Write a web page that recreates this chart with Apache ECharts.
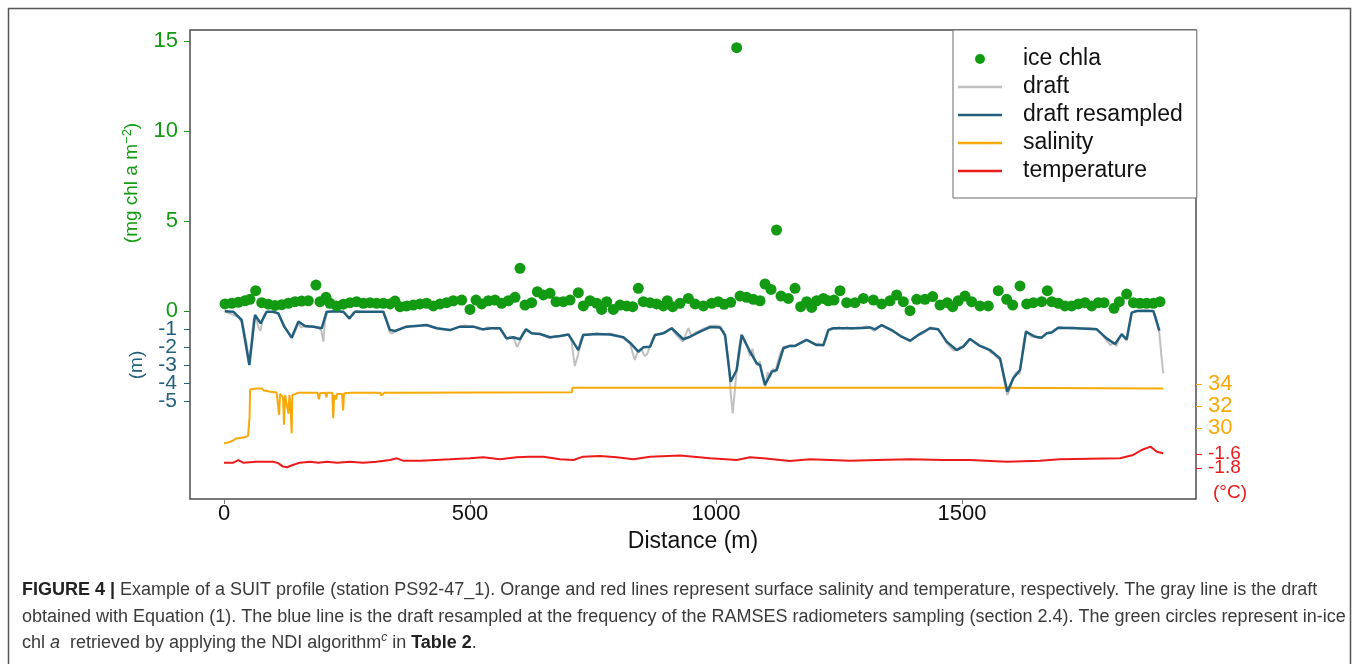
<!DOCTYPE html>
<html>
<head>
<meta charset="utf-8">
<script src="https://cdn.jsdelivr.net/npm/echarts@6/dist/echarts.min.js"></script>
<style>
  html, body { margin: 0; padding: 0; background: #fff; }
  #chart { width: 1358px; height: 664px; }
</style>
</head>
<body>
<div id="chart"></div>
<script>
// ---- SUIT profile PS92-47_1: distance along track (m) and measured values ----

// in-ice chl a (mg chl a m^-2) at the RAMSES sampling positions
const chlaDist = [2, 15.6, 29.1, 42.7, 52.8, 64.4, 76.6, 90.1, 103.7, 117.2, 130.7, 144.3, 157.8, 171.3, 186.9, 195.1, 207.3, 215.4, 229, 242.6, 256.1, 269.6, 283.2, 296.7, 310.3, 323.8, 337.4, 347.5, 357.7, 371.3, 384.8, 398.4, 411.9, 425.5, 439, 452.6,
  466.1, 483.1, 500, 512.2, 523.7, 537.3, 550.8, 564.4, 577.9, 591.5, 601.6, 611.8, 625.3, 636.9, 649.1, 662.6, 674.8, 689.7, 703.3, 720.2, 730.3, 743.9, 757.5, 767.6, 777.8, 791.3, 804.9, 818.4, 830.6, 842.1, 852.2, 865.9, 879.4, 893, 901.1, 911.9, 926.8, 943.8, 957.3, 974.3,
  991.2, 1004.7, 1016.3, 1029.8, 1042, 1048.8, 1062.3, 1075.9, 1089.4, 1099.6, 1111.8, 1123, 1132.1, 1147, 1160.6, 1172.1, 1184.3, 1194.4, 1204.6, 1218.2, 1228.3, 1239.8, 1252, 1265.6, 1282.5, 1299.5, 1319.8, 1336.7, 1353.7, 1367.2, 1380.8, 1394.3, 1407.9, 1424.8, 1440.4, 1455.3, 1470.2, 1481, 1492.5, 1506.1,
  1519.6, 1536.6, 1553.5, 1573.8, 1590.8, 1603, 1617.9, 1631.5, 1645, 1662, 1673.5, 1682.3, 1695.8, 1709.3, 1722.9, 1736.4, 1750, 1763.6, 1777.1, 1788.6, 1808.9, 1819.8, 1834.7, 1848.3, 1861.8, 1875.3, 1888.9, 1902.4];
const chlaValue = [0.39, 0.43, 0.48, 0.57, 0.65, 1.13, 0.46, 0.38, 0.31, 0.35, 0.43, 0.52, 0.55, 0.57, 1.44, 0.52, 0.76, 0.43, 0.28, 0.38, 0.46, 0.52, 0.43, 0.46, 0.43, 0.43, 0.39, 0.55, 0.24, 0.28, 0.33, 0.39, 0.43, 0.28, 0.39, 0.46,
  0.57, 0.61, 0.09, 0.61, 0.39, 0.57, 0.61, 0.43, 0.57, 0.76, 2.37, 0.33, 0.46, 1.07, 0.89, 0.98, 0.52, 0.52, 0.61, 1.02, 0.28, 0.57, 0.43, 0.09, 0.52, 0.09, 0.33, 0.28, 0.24, 1.26, 0.52, 0.46, 0.39, 0.28, 0.57, 0.24, 0.43, 0.70, 0.39, 0.28,
  0.43, 0.52, 0.37, 0.48, 14.63, 0.83, 0.76, 0.65, 0.57, 1.50, 1.20, 4.50, 0.83, 0.70, 1.26, 0.24, 0.52, 0.20, 0.57, 0.70, 0.57, 0.61, 1.13, 0.46, 0.46, 0.70, 0.61, 0.39, 0.57, 0.89, 0.52, 0.02, 0.65, 0.65, 0.80, 0.33, 0.46, 0.24, 0.57, 0.83,
  0.52, 0.28, 0.28, 1.13, 0.65, 0.33, 1.39, 0.39, 0.46, 0.52, 1.13, 0.52, 0.43, 0.28, 0.28, 0.39, 0.46, 0.28, 0.46, 0.46, 0.15, 0.52, 0.94, 0.46, 0.43, 0.43, 0.43, 0.52];

// ice draft from Equation (1) (m, negative downwards)
const draftDist = [0, 8, 18, 30, 38, 46, 51, 55, 60, 64, 70, 74, 80, 86, 100, 110, 118, 124, 132, 138, 145, 151, 156, 164, 172, 182, 192, 198, 202, 205, 210, 229, 243, 250, 255, 262, 268, 283, 324, 330, 337, 342, 348, 360, 372, 390, 412, 425, 440, 459,
  470, 480, 490, 500, 507, 517, 527, 535, 544, 552, 561, 568, 575, 582, 590, 596, 601, 607, 614, 620, 625, 635, 642, 652, 662, 672, 683, 693, 700, 706, 713, 720, 725, 730, 745, 757, 770, 784, 798, 812, 825, 835, 842, 848, 855, 860, 866, 872, 876, 885, 893, 902, 910, 918, 925, 933, 940, 944, 950, 958, 967, 977, 988,
  998, 1008, 1015, 1020, 1026, 1030, 1034, 1038, 1042, 1047, 1052, 1058, 1064, 1069, 1074, 1078, 1083, 1089, 1094, 1100, 1105, 1110, 1116, 1120, 1124, 1130, 1137, 1145, 1152, 1161, 1170, 1178, 1184, 1192, 1200, 1208, 1218, 1224, 1228, 1235, 1242, 1250, 1258, 1266, 1275, 1286, 1295, 1304, 1313, 1320, 1326, 1337, 1347, 1357, 1367, 1377, 1386, 1394, 1403, 1411, 1420, 1428, 1435, 1443, 1452, 1460, 1468, 1476, 1483, 1489, 1496, 1503, 1510, 1516,
  1524, 1530, 1537, 1545, 1552, 1558, 1565, 1572, 1578, 1585, 1592, 1598, 1604, 1610, 1617, 1622, 1626, 1630, 1636, 1642, 1648, 1655, 1662, 1668, 1675, 1683, 1690, 1696, 1710, 1725, 1740, 1755, 1774, 1782, 1790, 1796, 1802, 1808, 1814, 1820, 1825, 1830, 1835, 1840, 1845, 1855, 1870, 1889, 1895, 1901, 1905, 1909];
const draftValue = [0.0, -0.1, -0.2, -0.35, -0.7, -1.8, -2.9, -2.0, -0.5, -0.3, -0.9, -1.1, -0.3, -0.05, -0.05, -0.15, -0.6, -0.95, -1.25, -1.5, -1.1, -0.7, -0.9, -0.85, -0.9, -0.85, -0.95, -1.1, -1.7, -0.6, -0.05, 0.0, -0.05, -0.3, -0.45, -0.1, 0.0, -0.05, -0.05, -0.5, -1.2, -1.25, -1.1, -0.95, -0.85, -0.85, -0.8, -0.9, -1.0, -1.05,
  -0.95, -0.85, -0.8, -0.85, -0.85, -1.0, -1.05, -0.9, -0.95, -1.0, -0.95, -1.3, -1.6, -1.4, -1.6, -2.0, -1.7, -1.2, -1.0, -1.1, -1.25, -1.3, -1.25, -1.4, -1.5, -1.4, -1.4, -1.35, -1.3, -1.6, -3.06, -2.4, -1.6, -1.3, -1.3, -1.25, -1.3, -1.25, -1.35, -1.5, -1.8, -2.72, -2.2, -2.1, -2.5, -2.4, -1.95, -1.5, -1.3, -1.3, -1.2, -1.1, -0.95, -1.3, -1.5, -1.7, -1.2, -0.95, -1.4, -1.2, -1.1, -0.95, -0.85,
  -0.8, -0.85, -1.1, -1.6, -3.0, -4.6, -5.69, -4.5, -3.3, -2.0, -1.3, -1.6, -2.0, -2.5, -2.1, -2.6, -3.0, -2.8, -3.6, -4.2, -3.4, -3.7, -3.2, -3.4, -3.0, -2.4, -2.0, -1.95, -1.9, -1.95, -1.8, -1.65, -1.6, -1.7, -1.85, -1.8, -1.95, -1.5, -1.05, -0.95, -1.0, -0.9, -0.98, -0.9, -1.0, -0.92, -0.95, -0.85, -0.9, -1.1, -1.0, -0.8, -0.95, -1.1, -1.25, -1.45, -1.55, -1.7, -1.5, -1.35, -1.25, -1.1, -0.9, -0.95, -1.05, -1.35, -1.75, -2.0, -2.2, -2.15, -2.0, -1.95, -1.75, -1.55,
  -1.7, -1.85, -1.95, -2.0, -2.1, -2.3, -2.4, -2.6, -2.7, -3.8, -4.67, -4.3, -3.7, -3.4, -3.5, -2.5, -1.6, -1.1, -1.3, -1.45, -1.35, -1.5, -1.45, -1.3, -1.2, -1.15, -1.0, -0.9, -0.95, -0.92, -0.98, -0.95, -1.0, -1.2, -1.5, -1.7, -1.9, -1.75, -1.95, -1.5, -1.25, -1.5, -1.65, -0.9, -0.1, 0.0, 0.05, 0.0, -0.4, -1.2, -2.4, -3.46];

// draft resampled at the RAMSES sampling frequency (m)
const draftResDist = [2, 18.9, 35.8, 51.5, 63, 74.5, 86.7, 100.3, 110.4, 122.6, 137.5, 151.1, 164.6, 181.6, 198.5, 208.7, 229, 242.6, 254.8, 266.3, 283.2, 323.8, 337.4, 347.5, 371.3, 411.9, 432.2, 459.3,
  479.7, 506.8, 527, 544, 560.9, 574.5, 588, 601.6, 613.8, 625.3, 642.3, 662.6, 683, 700, 720.2, 730.3, 757.5, 784.6, 811.7, 825.2, 842.1, 852.2, 865.9, 876, 893, 909.9, 933.6, 947.2, 967.5, 987.8,
  1008.1, 1018.3, 1029.8, 1042, 1052.2, 1069.1, 1082.7, 1089.4, 1099.6, 1113.2, 1123.4, 1136.9, 1150.5, 1160.6, 1184.3, 1204.6, 1218.2, 1228.3, 1238.5, 1258.8, 1285.9, 1313, 1323.2, 1336.7, 1357, 1377.3, 1394.3, 1411.2, 1434.9, 1451.8, 1468.7, 1489, 1502.6, 1516.2,
  1536.6, 1556.9, 1577.2, 1592.1, 1604.3, 1617.9, 1630.1, 1648.4, 1661.9, 1672.1, 1682.3, 1695.8, 1733.1, 1773.7, 1794, 1811, 1824.5, 1834.7, 1844.8, 1855, 1888.9, 1901.1];
const draftResValue = [-0.02, -0.04, -0.5, -3.0, -0.22, -0.69, -0.04, -0.04, -0.13, -0.87, -1.48, -0.59, -0.83, -0.87, -0.96, -0.04, -0.01, -0.04, -0.41, -0.04, -0.04, -0.04, -1.06, -1.11, -0.87, -0.78, -0.96, -1.06,
  -0.87, -0.87, -1.02, -0.96, -0.96, -1.52, -1.46, -1.57, -1.02, -1.24, -1.28, -1.46, -1.39, -1.3, -2.17, -1.33, -1.28, -1.3, -1.46, -1.76, -2.26, -2.02, -1.98, -1.33, -1.24, -0.96, -1.57, -1.43, -1.15, -0.89,
  -0.91, -1.33, -3.93, -3.28, -1.33, -2.26, -2.91, -3.0, -4.11, -3.37, -3.28, -2.07, -1.94, -1.94, -1.61, -1.89, -1.89, -1.06, -0.96, -0.96, -0.96, -0.91, -1.02, -0.78, -1.06, -1.43, -1.65, -1.33, -0.96, -1.02, -1.7, -2.17, -1.98, -1.55,
  -1.94, -2.17, -2.63, -4.48, -3.74, -3.28, -1.15, -1.43, -1.48, -1.24, -1.2, -0.93, -0.96, -1.02, -1.52, -1.83, -1.3, -1.57, -0.09, 0.0, 0.0, -1.09];

// surface salinity
const salDist = [0, 10, 18, 25, 42, 49, 52, 53, 66, 77, 81, 95, 107, 110, 112, 114, 117, 120, 122, 124, 128, 131, 133, 135, 137.5, 139, 145, 150, 190, 193, 195, 206, 208, 210, 220, 222, 224, 228, 230, 240, 242, 244, 260, 318, 320, 324, 326, 707, 708, 1450, 1452, 1455, 1497, 1499, 1502, 1548, 1550, 1553, 1909];
const salValue = [28.6, 28.7, 28.85, 29.05, 29.15, 29.3, 31.0, 33.5, 33.6, 33.6, 33.4, 33.3, 33.22, 33.2, 31.2, 33.1, 33.1, 32.8, 30.3, 33.0, 33.0, 31.3, 33.0, 32.2, 29.5, 33.0, 33.1, 33.2, 33.2, 32.6, 33.15, 33.2, 32.8, 33.2, 33.2, 30.9, 33.0, 32.6, 33.1, 33.1, 31.6, 33.15, 33.2, 33.2, 32.95, 32.95, 33.2, 33.24, 33.66, 33.66, 33.5, 33.66, 33.66, 33.5, 33.66, 33.66, 33.5, 33.66, 33.6];

// surface temperature (°C)
const tempDist = [0, 19, 29, 39, 66, 100, 110, 120, 128, 137, 154, 175, 192, 209, 230, 256, 283, 310, 337, 351, 364, 400, 459, 500, 527, 561, 595, 620, 649, 683, 710, 730, 764, 798, 832, 866, 927, 988, 1042, 1069, 1096, 1150, 1191, 1272, 1327, 1394, 1462, 1516, 1591, 1658, 1699, 1821, 1848, 1865, 1883, 1896, 1909];
const tempValue = [-1.724, -1.724, -1.686, -1.724, -1.71, -1.71, -1.73, -1.78, -1.79, -1.765, -1.724, -1.71, -1.724, -1.71, -1.724, -1.71, -1.724, -1.71, -1.686, -1.662, -1.695, -1.695, -1.676, -1.662, -1.647, -1.676, -1.647, -1.638, -1.638, -1.676, -1.686, -1.638, -1.628, -1.647, -1.676, -1.638, -1.623, -1.662, -1.686, -1.648, -1.662, -1.70, -1.676, -1.695, -1.686, -1.676, -1.686, -1.686, -1.71, -1.695, -1.676, -1.662, -1.614, -1.543, -1.495, -1.567, -1.59];

// tick values shown on each axis
const distTicks = [0, 500, 1000, 1500];
const chlaTicks = [0, 5, 10, 15];
const draftTicks = [-1, -2, -3, -4, -5];
const salTicks = [30, 32, 34];
const tempTicks = [-1.6, -1.8];

const FONT = '"Liberation Sans", Arial, Helvetica, sans-serif';
const GREEN = '#129a12';
const BLUE = '#225f7e';
const GREY = '#c0c0c0';
const ORANGE = '#f7a90a';
const RED = '#ec1a1a';
const INK = '#111';

// value ranges of the stacked scales sharing the plot area
const CHLA_RANGE = [-10.444, 15.611];
const SAL_RANGE = [23.545, 66.18];
const TEMP_RANGE = [-2.243, 4.457];

// thin bar used as the legend key for line series
const LINE_ICON = 'path://M0,0L44,0L44,2.5L0,2.5Z';

const pairs = (xs, ys) => xs.map((x, i) => [x, ys[i]]);
// the draft and temperature tick labels sit closer together than their text height,
// so they are split over two coincident axes (alternate labels) to keep all of them
const everyOther = (arr, start) => arr.filter((_, i) => i % 2 === start);

function valueAxis(pos, range, ticks, color, size, margin, fmt) {
  return {
    type: 'value', position: pos, min: range[0], max: range[1],
    axisLine: { show: false, onZero: false }, splitLine: { show: false },
    axisTick: { show: true, customValues: ticks, length: 6, lineStyle: { color: color, width: 1 } },
    axisLabel: { customValues: ticks, color: color, fontSize: size, fontFamily: FONT, margin: margin,
      hideOverlap: false, showMinLabel: true, showMaxLabel: true, formatter: fmt || (v => String(v)) }
  };
}

const chart = echarts.init(document.getElementById('chart'), null, { renderer: 'canvas' });

const tempFmt = v => v.toFixed(1);

const option = {
  animation: false,
  backgroundColor: '#fff',
  textStyle: { fontFamily: FONT },
  grid: {
    left: 190, right: 162, top: 30, bottom: 165,
    show: true, borderColor: '#4d4d4d', borderWidth: 1.5, backgroundColor: 'transparent',
    outerBoundsMode: 'none'
  },
  xAxis: {
    type: 'value', min: -69.1, max: 1975.6,
    axisLine: { show: false, onZero: false }, splitLine: { show: false },
    axisTick: { show: true, customValues: distTicks, length: 5, lineStyle: { color: '#777' } },
    axisLabel: { customValues: distTicks, color: INK, fontSize: 22, fontFamily: FONT, margin: 4,
      hideOverlap: false, showMinLabel: true, showMaxLabel: true, formatter: v => String(v) },
    name: 'Distance (m)', nameLocation: 'middle', nameGap: 24,
    nameTextStyle: { color: INK, fontSize: 23, fontFamily: FONT }
  },
  yAxis: [
    valueAxis('left', CHLA_RANGE, chlaTicks, GREEN, 22, 12),                       // 0 chl a
    valueAxis('left', CHLA_RANGE, everyOther(draftTicks, 0), BLUE, 21, 13),        // 1 draft (-1, -3, -5)
    valueAxis('left', CHLA_RANGE, everyOther(draftTicks, 1), BLUE, 21, 13),        // 2 draft (-2, -4)
    valueAxis('right', SAL_RANGE, salTicks, ORANGE, 22, 12),                       // 3 salinity
    valueAxis('right', TEMP_RANGE, everyOther(tempTicks, 0), RED, 19, 12, tempFmt), // 4 temperature (-1.6)
    valueAxis('right', TEMP_RANGE, everyOther(tempTicks, 1), RED, 19, 12, tempFmt)  // 5 temperature (-1.8)
  ],
  legend: {
    orient: 'vertical', left: 953, top: 30,
    padding: [17, 14, 15, 5], itemGap: 4, itemWidth: 44, itemHeight: 10,
    borderColor: '#6a6a6a', borderWidth: 1, backgroundColor: '#fff',
    textStyle: { fontSize: 23, color: INK, fontFamily: FONT, lineHeight: 24, padding: [0, 0, 0, 16] },
    selectedMode: false,
    data: [
      { name: 'ice chla', icon: 'circle' },
      { name: 'draft', icon: LINE_ICON },
      { name: 'draft resampled', icon: LINE_ICON },
      { name: 'salinity', icon: LINE_ICON },
      { name: 'temperature', icon: LINE_ICON }
    ]
  },
  series: [
    {
      name: 'draft', type: 'line', yAxisIndex: 1, data: pairs(draftDist, draftValue),
      symbol: 'none', lineStyle: { color: GREY, width: 2 }, itemStyle: { color: GREY }, z: 2, silent: true
    },
    {
      name: 'draft resampled', type: 'line', yAxisIndex: 1, data: pairs(draftResDist, draftResValue),
      symbol: 'none', lineStyle: { color: BLUE, width: 2.5 }, itemStyle: { color: BLUE }, z: 3, silent: true
    },
    {
      name: 'salinity', type: 'line', yAxisIndex: 3, data: pairs(salDist, salValue),
      symbol: 'none', lineStyle: { color: ORANGE, width: 2 }, itemStyle: { color: ORANGE }, z: 2, silent: true
    },
    {
      name: 'temperature', type: 'line', yAxisIndex: 4, data: pairs(tempDist, tempValue),
      symbol: 'none', lineStyle: { color: RED, width: 2 }, itemStyle: { color: RED }, z: 2, silent: true
    },
    {
      name: 'ice chla', type: 'scatter', yAxisIndex: 0, data: pairs(chlaDist, chlaValue),
      symbol: 'circle', symbolSize: 11, itemStyle: { color: GREEN, opacity: 1 }, z: 5, silent: true
    }
  ],
  graphic: [
    // outer figure frame
    { type: 'rect', silent: true, shape: { x: 8.5, y: 8.5, width: 1342, height: 720 },
      style: { fill: 'none', stroke: '#555', lineWidth: 1.5 } },
    // axis titles
    { type: 'text', x: 132, y: 183, rotation: Math.PI / 2, silent: true,
      style: { text: '{a|(mg chl a m}{s|−2}{a|)}', align: 'center', verticalAlign: 'middle',
        rich: { a: { fontSize: 19, fill: GREEN, fontFamily: FONT, lineHeight: 22 },
                s: { fontSize: 13, fill: GREEN, fontFamily: FONT, verticalAlign: 'top', lineHeight: 14 } } } },
    { type: 'text', x: 137, y: 365, rotation: Math.PI / 2, silent: true,
      style: { text: '(m)', fontSize: 19, fill: BLUE, fontFamily: FONT, align: 'center', verticalAlign: 'middle' } },
    { type: 'text', x: 1230, y: 493, silent: true,
      style: { text: '(°C)', fontSize: 19, fill: RED, fontFamily: FONT, align: 'center', verticalAlign: 'middle' } },
    // caption
    { type: 'text', x: 22, y: 590, silent: true,
      style: { text: '{b|FIGURE 4 | }{n|Example of a SUIT profile (station PS92-47_1). Orange and red lines represent surface salinity and temperature, respectively. The gray line is the draft}',
        verticalAlign: 'middle',
        rich: { b: { fontSize: 18, fontWeight: 'bold', fill: '#222', fontFamily: FONT },
                n: { fontSize: 18, fill: '#3a3a3a', fontFamily: FONT } } } },
    { type: 'text', x: 22, y: 617, silent: true,
      style: { text: 'obtained with Equation (1). The blue line is the draft resampled at the frequency of the RAMSES radiometers sampling (section 2.4). The green circles represent in-ice',
        fontSize: 18, fill: '#3a3a3a', fontFamily: FONT, verticalAlign: 'middle' } },
    { type: 'text', x: 22, y: 643, silent: true,
      style: { text: '{n|chl }{i|a}{n|  retrieved by applying the NDI algorithm}{s|c}{n| in }{b|Table 2}{n|.}',
        verticalAlign: 'middle',
        rich: { n: { fontSize: 18, fill: '#3a3a3a', fontFamily: FONT, lineHeight: 22 },
                i: { fontSize: 18, fill: '#3a3a3a', fontFamily: FONT, fontStyle: 'italic', lineHeight: 22 },
                s: { fontSize: 12, fill: '#3a3a3a', fontFamily: FONT, fontStyle: 'italic', verticalAlign: 'top', lineHeight: 13 },
                b: { fontSize: 18, fill: '#222', fontFamily: FONT, fontWeight: 'bold', lineHeight: 22 } } } }
  ]
};

chart.setOption(option);
</script>
</body>
</html>
